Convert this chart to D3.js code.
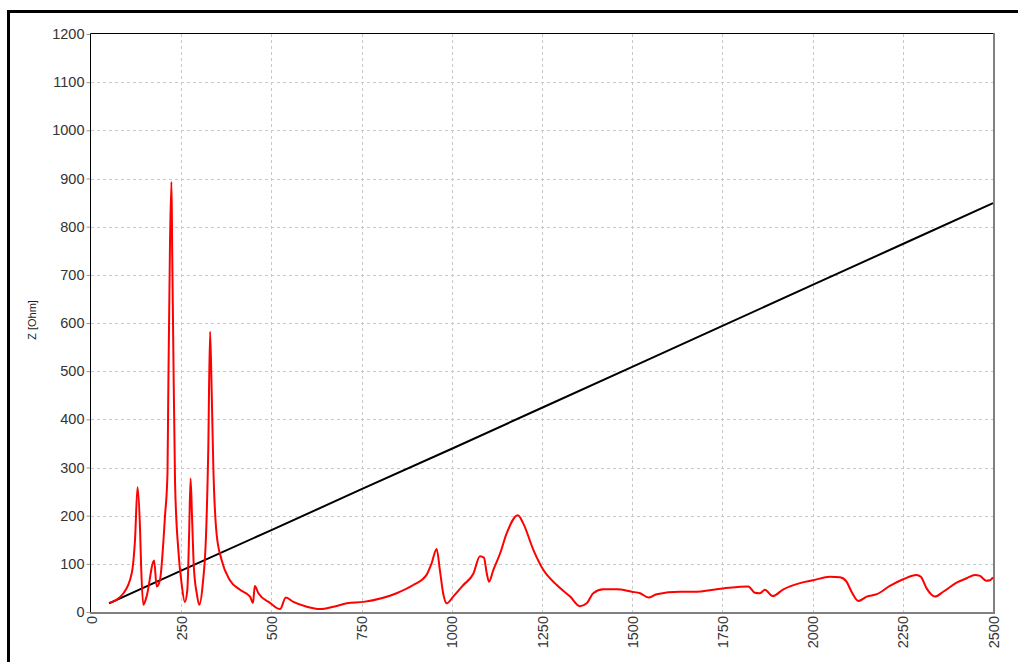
<!DOCTYPE html>
<html>
<head>
<meta charset="utf-8">
<script src="https://cdn.jsdelivr.net/npm/d3@7"></script>
<style>
  body { margin: 0; background: #fff; }
  svg { display: block; font-family: "Liberation Sans", Arial, sans-serif; }
</style>
</head>
<body>
<div id="chart"></div>
<script>
// ticks
var xTicks = [0, 250, 500, 750, 1000, 1250, 1500, 1750, 2000, 2250, 2500];
var yTicks = [0, 100, 200, 300, 400, 500, 600, 700, 800, 900, 1000, 1100, 1200];

// black trace: frequency / impedance
var lineFreq = [50, 250, 500, 750, 1000, 1250, 1500, 1750, 2000, 2250, 2500];
var lineZ = [18, 86, 170, 255, 339, 424, 509, 594, 679, 764, 849];

// red trace
var measFreq = [51, 90, 113, 122, 129, 136, 139, 145, 154, 175, 182, 191, 205, 212, 214, 219, 223, 225, 228, 233,
  242, 251, 260, 267, 272, 276, 280, 285, 293, 300, 310, 319, 325, 330, 334, 339, 348, 362, 385, 413,
  441, 449, 454, 464, 496, 524, 540, 561, 598, 635, 672, 709, 755, 847, 893, 930, 944, 958, 967, 976,
  986, 1004, 1032, 1060, 1078, 1089, 1097, 1103, 1115, 1134, 1152, 1183, 1198, 1226, 1254, 1291, 1328, 1355, 1374, 1392,
  1420, 1457, 1499, 1522, 1545, 1568, 1632, 1669, 1752, 1822, 1840, 1854, 1868, 1889, 1919, 1965, 2002, 2048, 2076, 2094,
  2108, 2127, 2150, 2178, 2214, 2251, 2288, 2300, 2316, 2339, 2362, 2399, 2427, 2450, 2464, 2481, 2492, 2500];
var measZ = [19, 39, 81, 150, 259, 170, 94, 15, 32, 107, 53, 66, 198, 288, 440, 769, 893, 752, 558, 267,
  129, 60, 21, 46, 163, 277, 198, 94, 39, 15, 60, 163, 336, 582, 475, 302, 163, 108, 66, 46,
  32, 19, 54, 39, 19, 6, 30, 21, 11, 6, 11, 18, 21, 39, 56, 77, 101, 131, 87, 39,
  18, 32, 56, 80, 116, 113, 80, 63, 87, 122, 163, 201, 184, 129, 87, 56, 32, 12, 18, 39,
  47, 47, 42, 39, 30, 37, 42, 42, 49, 53, 40, 39, 46, 33, 47, 60, 66, 73, 72, 63,
  42, 23, 32, 37, 54, 68, 77, 73, 49, 32, 42, 61, 70, 77, 75, 65, 66, 72];

var width = 1018, height = 662;
var plot = {left: 91, top: 34, right: 993, bottom: 612};

var svg = d3.select("#chart").append("svg")
  .attr("width", width)
  .attr("height", height);

// outer frame (top + left only)
svg.append("line")
  .attr("x1", 7).attr("x2", width).attr("y1", 11.5).attr("y2", 11.5)
  .attr("stroke", "#000").attr("stroke-width", 3);
svg.append("line")
  .attr("x1", 8.5).attr("x2", 8.5).attr("y1", 10).attr("y2", height)
  .attr("stroke", "#000").attr("stroke-width", 3);

var x = d3.scaleLinear().domain([0, 2500]).range([plot.left, plot.right]);
var y = d3.scaleLinear().domain([0, 1200]).range([plot.bottom, plot.top]);

// grid
var grid = svg.append("g")
  .attr("stroke", "#c8c8c8")
  .attr("stroke-width", 1)
  .attr("stroke-dasharray", "3,3");
grid.selectAll("line.gx")
  .data(xTicks.slice(1, -1))
  .enter().append("line")
  .attr("class", "gx")
  .attr("x1", d => Math.round(x(d)) + 0.5)
  .attr("x2", d => Math.round(x(d)) + 0.5)
  .attr("y1", plot.top)
  .attr("y2", plot.bottom);
grid.selectAll("line.gy")
  .data(yTicks.slice(1, -1))
  .enter().append("line")
  .attr("class", "gy")
  .attr("x1", plot.left)
  .attr("x2", plot.right)
  .attr("y1", d => Math.round(y(d)) + 0.5)
  .attr("y2", d => Math.round(y(d)) + 0.5);

// axes
var yAxis = d3.axisLeft(y).tickValues(yTicks).tickSize(4).tickPadding(2).tickFormat(d3.format("d"));
var gy = svg.append("g")
  .attr("transform", "translate(" + (plot.left - 0.5) + ",0)")
  .call(yAxis);
gy.select(".domain").remove();
gy.selectAll("line").attr("stroke", "#999");
gy.selectAll("text")
  .attr("fill", "#333")
  .attr("font-size", 14.5)
  .attr("font-family", "Liberation Sans, Arial, sans-serif");

var xAxis = d3.axisBottom(x).tickValues(xTicks).tickSize(0).tickFormat(d3.format("d"));
var gx = svg.append("g")
  .attr("transform", "translate(0," + plot.bottom + ")")
  .call(xAxis);
gx.select(".domain").remove();
gx.selectAll("text")
  .attr("fill", "#333")
  .attr("font-size", 14.5)
  .attr("font-family", "Liberation Sans, Arial, sans-serif")
  .attr("text-anchor", "end")
  .attr("transform", "rotate(-90)")
  .attr("x", -4)
  .attr("y", 0)
  .attr("dy", "0.35em");

// plot frame: dark top/left, grey right/bottom
svg.append("line")
  .attr("x1", plot.left - 0.5).attr("x2", plot.right).attr("y1", plot.top - 0.5).attr("y2", plot.top - 0.5)
  .attr("stroke", "#000").attr("stroke-width", 1);
svg.append("line")
  .attr("x1", plot.left - 0.5).attr("x2", plot.left - 0.5).attr("y1", plot.top - 0.5).attr("y2", plot.bottom)
  .attr("stroke", "#000").attr("stroke-width", 1);
svg.append("line")
  .attr("x1", plot.right + 1).attr("x2", plot.right + 1).attr("y1", plot.top - 1).attr("y2", plot.bottom + 2)
  .attr("stroke", "#808080").attr("stroke-width", 2);
svg.append("line")
  .attr("x1", plot.left - 1).attr("x2", plot.right + 2).attr("y1", plot.bottom + 1).attr("y2", plot.bottom + 1)
  .attr("stroke", "#808080").attr("stroke-width", 2);

// y title
svg.append("text")
  .attr("transform", "translate(36," + 320 + ") rotate(-90)")
  .attr("text-anchor", "middle")
  .attr("font-size", 11)
  .attr("fill", "#222")
  .text("Z [Ohm]");

// series
var linePts = lineFreq.map((f, i) => [f, lineZ[i]]);
var measPts = measFreq.map((f, i) => [f, measZ[i]]);

var path = d3.line()
  .x(d => x(d[0]))
  .y(d => y(d[1]));

svg.append("path")
  .datum(linePts)
  .attr("d", path)
  .attr("fill", "none")
  .attr("stroke", "#000")
  .attr("stroke-width", 2);

svg.append("path")
  .datum(measPts)
  .attr("d", path.curve(d3.curveMonotoneX))
  .attr("fill", "none")
  .attr("stroke", "#ff0000")
  .attr("stroke-width", 2)
  .attr("stroke-linejoin", "round");
</script>
</body>
</html>
